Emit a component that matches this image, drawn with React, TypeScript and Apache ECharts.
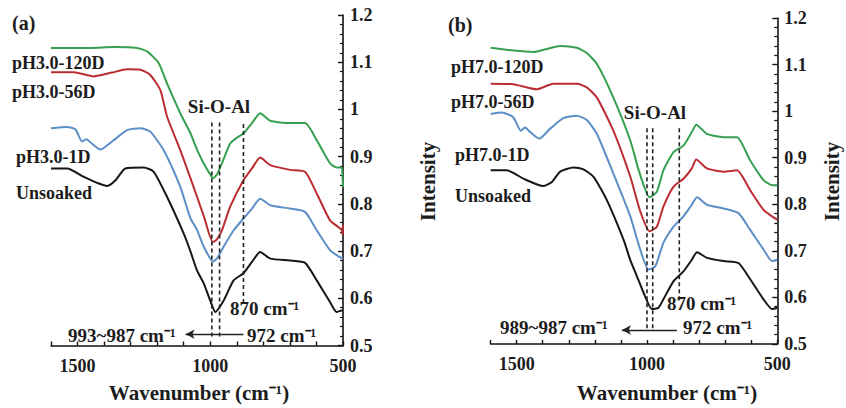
import React, { useEffect, useRef } from "react";
import * as echarts from "echarts";

// ---------- data: [wavenumber (cm-1), intensity] ----------
const unsoakedA: number[][] = [
  [1600, 0.875], [1539, 0.875], [1476, 0.857], [1420, 0.843], [1388, 0.838], [1357, 0.85],
  [1320, 0.875], [1251, 0.877], [1213, 0.868], [1163, 0.815], [1100, 0.737], [1075, 0.7],
  [1050, 0.659], [1025, 0.632], [1000, 0.595], [981, 0.571], [950, 0.595], [912, 0.638],
  [875, 0.653], [843, 0.677], [812, 0.698], [774, 0.684], [699, 0.68], [643, 0.675],
  [599, 0.638], [549, 0.592], [524, 0.571], [505, 0.574], [500, 0.574],
];
const oneDayA: number[][] = [
  [1600, 0.96], [1539, 0.963], [1508, 0.958], [1483, 0.932], [1466, 0.937], [1451, 0.93],
  [1414, 0.915], [1370, 0.932], [1313, 0.956], [1263, 0.96], [1226, 0.953], [1176, 0.914],
  [1113, 0.836], [1075, 0.77], [1050, 0.745], [1025, 0.71], [990, 0.678], [975, 0.684],
  [950, 0.709], [912, 0.744], [875, 0.769], [843, 0.79], [812, 0.811], [774, 0.797],
  [699, 0.79], [643, 0.783], [599, 0.744], [549, 0.702], [520, 0.69], [500, 0.684],
];
const day56A: number[][] = [
  [1600, 1.079], [1514, 1.079], [1439, 1.07], [1370, 1.078], [1313, 1.085], [1263, 1.084],
  [1226, 1.073], [1188, 1.041], [1163, 0.985], [1113, 0.914], [1075, 0.855], [1050, 0.815],
  [1025, 0.775], [990, 0.719], [975, 0.725], [956, 0.744], [925, 0.794], [875, 0.85],
  [843, 0.875], [812, 0.898], [774, 0.882], [699, 0.872], [643, 0.868], [599, 0.822],
  [549, 0.765], [518, 0.751], [505, 0.745], [502, 0.735], [500, 0.755],
];
const day120A: number[][] = [
  [1600, 1.13], [1451, 1.13], [1364, 1.132], [1276, 1.13], [1238, 1.123], [1194, 1.098],
  [1163, 1.055], [1113, 0.992], [1075, 0.95], [1050, 0.915], [1025, 0.886], [1000, 0.862],
  [990, 0.854], [975, 0.862], [956, 0.886], [925, 0.928], [900, 0.94], [875, 0.949],
  [843, 0.971], [812, 0.992], [774, 0.976], [699, 0.971], [643, 0.971], [599, 0.935],
  [549, 0.886], [524, 0.877], [505, 0.877], [502, 0.86], [500, 0.836],
];

const unsoakedB: number[][] = [
  [1600, 0.873], [1538, 0.873], [1474, 0.855], [1397, 0.839], [1365, 0.848], [1333, 0.87],
  [1282, 0.879], [1244, 0.875], [1205, 0.859], [1154, 0.809], [1090, 0.724], [1064, 0.68],
  [1039, 0.646], [1013, 0.61], [981, 0.575], [956, 0.578], [937, 0.596], [898, 0.635],
  [860, 0.656], [828, 0.681], [808, 0.697], [770, 0.685], [706, 0.678], [649, 0.674],
  [604, 0.639], [553, 0.596], [520, 0.575], [500, 0.578],
];
const oneDayB: number[][] = [
  [1600, 0.994], [1557, 0.997], [1513, 0.987], [1484, 0.958], [1468, 0.965], [1448, 0.955],
  [1413, 0.941], [1372, 0.962], [1321, 0.985], [1269, 0.99], [1231, 0.981], [1192, 0.951],
  [1129, 0.866], [1064, 0.774], [1030, 0.71], [994, 0.66], [968, 0.667], [937, 0.717],
  [898, 0.752], [860, 0.774], [828, 0.799], [808, 0.815], [770, 0.799], [706, 0.791],
  [649, 0.781], [604, 0.745], [553, 0.703], [520, 0.678], [500, 0.681],
];
const day56B: number[][] = [
  [1600, 1.059], [1513, 1.058], [1423, 1.047], [1359, 1.059], [1269, 1.059], [1231, 1.051],
  [1192, 1.029], [1129, 0.958], [1064, 0.859], [1026, 0.785], [990, 0.742], [962, 0.752],
  [937, 0.795], [898, 0.838], [860, 0.855], [828, 0.877], [811, 0.896], [770, 0.877],
  [706, 0.87], [655, 0.873], [604, 0.83], [553, 0.788], [520, 0.774], [500, 0.767],
];
const day120B: number[][] = [
  [1600, 1.136], [1513, 1.13], [1436, 1.127], [1333, 1.14], [1269, 1.136], [1231, 1.125],
  [1192, 1.101], [1129, 1.029], [1064, 0.937], [1030, 0.87], [990, 0.815], [962, 0.827],
  [937, 0.873], [898, 0.912], [860, 0.926], [828, 0.955], [811, 0.971], [770, 0.951],
  [706, 0.944], [655, 0.944], [604, 0.894], [553, 0.852], [520, 0.841], [500, 0.841],
];

// marker lines: [x, yBottom, yTop]
const dashA: number[][] = [[994, 0.519, 0.974], [965, 0.519, 0.974], [875, 0.59, 0.974]];
const dashB: number[][] = [[1000, 0.534, 0.963], [978, 0.534, 0.963], [876, 0.594, 0.963]];
// arrows: [xFrom, xTo, y]
const arrowA = [875, 1093, 0.524];
const arrowB = [885, 1096, 0.53];

const xTickLabels = [500, 1000, 1500];
const seriesNamesA = ["Unsoaked", "pH3.0-1D", "pH3.0-56D", "pH3.0-120D"];
const seriesNamesB = ["Unsoaked", "pH7.0-1D", "pH7.0-56D", "pH7.0-120D"];
const colors = ["#161616", "#5b8fc6", "#bb2d32", "#36a050"];

const FONT = '"Liberation Serif", "Times New Roman", serif';
const TXT = "#1c1c1c";

function App() {
  const ref = useRef<HTMLDivElement>(null);
  useEffect(() => {
    if (!ref.current) return;
    const chart = echarts.init(ref.current, null, { renderer: "svg" });

    const xAxisBase = (gridIndex: number) => ({
      type: "value",
      gridIndex,
      min: 500,
      max: 1600,
      interval: 100,
      inverse: true,
      axisLine: { show: true, onZero: false, lineStyle: { color: "#111", width: 1.6 } },
      axisTick: { show: true, inside: true, length: 4, lineStyle: { color: "#111", width: 1.4 } },
      splitLine: { show: false },
      axisLabel: {
        margin: 11,
        fontFamily: FONT,
        fontWeight: "bold",
        fontSize: 18,
        color: TXT,
        formatter: (v: number) => (xTickLabels.indexOf(v) >= 0 ? String(v) : ""),
      },
    });
    const yAxisBase = (gridIndex: number) => ({
      type: "value",
      gridIndex,
      position: "right",
      min: 0.5,
      max: 1.2,
      interval: 0.1,
      axisLine: { show: true, lineStyle: { color: "#111", width: 1.6 } },
      axisTick: { show: true, inside: true, length: 5, lineStyle: { color: "#111", width: 1.4 } },
      minorTick: { show: true, splitNumber: 5, length: 3, lineStyle: { color: "#111", width: 1.2 } },
      splitLine: { show: false },
      axisLabel: {
        margin: 7,
        fontFamily: FONT,
        fontWeight: "bold",
        fontSize: 18,
        color: TXT,
        formatter: (v: number) => String(Math.round(v * 10) / 10),
      },
    });

    const curve = (name: string, data: number[][], color: string, idx: number) => ({
      type: "line",
      name,
      xAxisIndex: idx,
      yAxisIndex: idx,
      data,
      showSymbol: false,
      symbol: "none",
      smooth: 0.2,
      lineStyle: { color, width: 2 },
      silent: true,
    });
    const dashSeries = (d: number[], idx: number, arrow?: number[]) => {
      const s: any = {
        type: "line",
        xAxisIndex: idx,
        yAxisIndex: idx,
        data: [[d[0], d[1]], [d[0], d[2]]],
        showSymbol: false,
        symbol: "none",
        lineStyle: { color: "#222", width: 1.6, type: [4, 3] },
        silent: true,
      };
      if (arrow) {
        s.markLine = {
          silent: true,
          symbol: ["none", "arrow"],
          symbolSize: [7, 9],
          label: { show: false },
          lineStyle: { color: "#222", width: 1.3, type: "solid" },
          data: [[{ coord: [arrow[0], arrow[2]] }, { coord: [arrow[1], arrow[2]] }]],
        };
      }
      return s;
    };

    const t = (text: string, x: number, y: number, size: number, align = "left", rotation = 0) => ({
      type: "text",
      x,
      y,
      rotation,
      silent: true,
      style: {
        text,
        fill: TXT,
        fontFamily: FONT,
        fontWeight: "bold",
        fontSize: size,
        align,
        verticalAlign: "middle",
      },
    });

    chart.setOption({
      animation: false,
      backgroundColor: "#fff",
      grid: [
        { left: 51, top: 15, width: 292, height: 330.5 },
        { left: 490.6, top: 18, width: 286.7, height: 326 },
      ],
      xAxis: [xAxisBase(0), xAxisBase(1)],
      yAxis: [yAxisBase(0), yAxisBase(1)],
      series: [
        curve(seriesNamesA[0], unsoakedA, colors[0], 0),
        curve(seriesNamesA[1], oneDayA, colors[1], 0),
        curve(seriesNamesA[2], day56A, colors[2], 0),
        curve(seriesNamesA[3], day120A, colors[3], 0),
        curve(seriesNamesB[0], unsoakedB, colors[0], 1),
        curve(seriesNamesB[1], oneDayB, colors[1], 1),
        curve(seriesNamesB[2], day56B, colors[2], 1),
        curve(seriesNamesB[3], day120B, colors[3], 1),
        dashSeries(dashA[0], 0),
        dashSeries(dashA[1], 0),
        dashSeries(dashA[2], 0, arrowA),
        dashSeries(dashB[0], 1),
        dashSeries(dashB[1], 1),
        dashSeries(dashB[2], 1, arrowB),
      ],
      graphic: [
        t("(a)", 12, 23, 20),
        t(seriesNamesA[3], 12, 63, 18),
        t(seriesNamesA[2], 12, 92, 18),
        t(seriesNamesA[1], 16, 157, 18),
        t(seriesNamesA[0], 16, 193, 18),
        t("Si-O-Al", 219, 106, 19, "center"),
        t("870 cm⁻¹", 230, 308, 19),
        t("993~987 cm⁻¹", 68, 335, 19),
        t("972 cm⁻¹", 247, 335, 19),
        t("Wavenumber (cm⁻¹)", 199, 393, 21, "center"),
        t("Intensity", 427.5, 181.5, 21, "center", Math.PI / 2),

        t("(b)", 448, 25, 20),
        t(seriesNamesB[3], 451, 67, 18),
        t(seriesNamesB[2], 451, 102, 18),
        t(seriesNamesB[1], 455, 155, 18),
        t(seriesNamesB[0], 455, 196, 18),
        t("Si-O-Al", 655, 112, 19, "center"),
        t("870 cm⁻¹", 667, 303, 19),
        t("989~987 cm⁻¹", 500, 327, 19),
        t("972 cm⁻¹", 683, 327, 19),
        t("Wavenumber (cm⁻¹)", 667, 393, 21, "center"),
        t("Intensity", 831.5, 181.5, 21, "center", Math.PI / 2),
      ],
    });
    return () => chart.dispose();
  }, []);
  return (
    <div
      ref={ref}
      style={{ position: "absolute", left: 0, top: 0, width: 846, height: 408, background: "#fff" }}
    />
  );
}

export default App;
